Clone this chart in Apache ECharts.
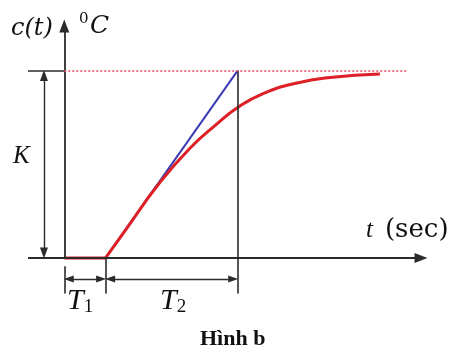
<!DOCTYPE html>
<html>
<head>
<meta charset="utf-8">
<script src="https://cdn.jsdelivr.net/npm/echarts@6/dist/echarts.min.js"></script>
<style>
html,body{margin:0;padding:0;background:#fff;}
#chart{width:453px;height:355px;}
</style>
</head>
<body>
<div id="chart"></div>
<script>
// ---- data (time units, normalised output) ----
const xRange = [-1, 10];
const yRange = [-0.2, 1.27];
const K = 1;
const T1 = 1.14;          // end of dead time
const T12 = 4.78;         // T1 + T2
const delayT = [0, 1.14];
const delayC = [0, 0];
const respT = [1.14, 1.81, 2.56, 3.47, 4.21, 4.76, 5.48, 6.42, 7.33, 8.70];
const respC = [0, 0.182, 0.384, 0.587, 0.715, 0.800, 0.877, 0.934, 0.963, 0.982];
const tangentT = [1.14, 4.78];
const tangentC = [0, 1];
const kLineEnd = 9.48;
const kArrowX = -0.56;
const dimY = -0.112;
const tickTop = -0.045, tickBottom = -0.19;

const chart = echarts.init(document.getElementById('chart'), null, {renderer: 'canvas'});
const zip = (a, b) => a.map((v, i) => [v, b[i]]);
const black = '#2b2b2b';
// pixel -> data unit helpers for pulling arrowhead centres back so tips land on the end points
const pxX = (xRange[1] - xRange[0]) / (453 - 28 - 26);
const pxY = (yRange[1] - yRange[0]) / (355 - 20 - 59.6);
function seg(p, q, s1, s2) {
  return [{coord: p, symbol: s1 || 'none'}, {coord: q, symbol: s2 || 'none'}];
}
function lines(data, width, size) {
  return {
    type: 'line', data: [], silent: true,
    markLine: {
      silent: true, animation: false, label: {show: false},
      symbol: ['none', 'none'], symbolSize: size || [8, 10],
      lineStyle: {color: black, type: 'solid', width: width},
      itemStyle: {color: black},
      emphasis: {disabled: true},
      data: data
    }
  };
}
const serif = '"Liberation Serif","DejaVu Serif",serif';
const dserif = '"DejaVu Serif",serif';

chart.setOption({
  animation: false,
  grid: {left: 28, right: 26, top: 20, bottom: 59.6},
  xAxis: {type: 'value', min: xRange[0], max: xRange[1], show: false},
  yAxis: {type: 'value', min: yRange[0], max: yRange[1], show: false},
  series: [
    // axes with arrowheads
    lines([
      seg([xRange[0], 0], [xRange[1] - 6 * pxX, 0], 'none', 'triangle'),
      seg([0, 0], [0, yRange[1] - 6 * pxY], 'none', 'triangle')
    ], 1.8, [10, 13]),
    // plain lines
    lines([
      seg([xRange[0], K], [0, K]),
      seg([T12, K], [T12, tickBottom]),
      seg([0, tickTop], [0, tickBottom]),
      seg([T1, 0], [T1, tickBottom])
    ], 1.6),
    // K dimension
    lines([seg([kArrowX, 5 * pxY], [kArrowX, K - 5 * pxY], 'triangle', 'triangle')], 1.4, [8, 11]),
    // T1, T2 dimensions
    lines([
      seg([4.5 * pxX, dimY], [T1 - 4.5 * pxX, dimY], 'triangle', 'triangle'),
      seg([T1 + 4.5 * pxX, dimY], [T12 - 4.5 * pxX, dimY], 'triangle', 'triangle')
    ], 1.4, [7, 10]),
    {
      type: 'line', data: [], silent: true,
      markLine: {
        silent: true, symbol: ['none', 'none'], label: {show: false},
        lineStyle: {color: '#e8506a', type: [2, 2], width: 1.6},
        data: [[{coord: [0, K]}, {coord: [kLineEnd, K]}]]
      }
    },
    {
      type: 'line', data: zip(tangentT, tangentC), symbol: 'none', silent: true,
      lineStyle: {color: '#3a3ab4', width: 2}
    },
    {
      type: 'line', data: zip(delayT, delayC), symbol: 'none', silent: true,
      lineStyle: {color: '#dd1f26', width: 3}
    },
    {
      type: 'line', data: zip(respT, respC), symbol: 'none', silent: true, smooth: 0.5,
      lineStyle: {color: '#dd1f26', width: 3}
    }
  ],
  graphic: [
    {type: 'text', left: 11, top: 17, style: {text: 'c(t)', font: 'italic 24px ' + dserif, fill: '#111'}},
    {type: 'text', left: 79, top: 12, style: {text: '0', font: '15px ' + dserif, fill: '#111'}},
    {type: 'text', left: 90, top: 14, style: {text: 'C', font: 'italic 25px ' + dserif, fill: '#111'}},
    {type: 'text', left: 13, top: 144, style: {text: 'K', font: 'italic 25px ' + serif, fill: '#111'}},
    {type: 'text', left: 366, top: 217, style: {
      text: '{t|t}{p|(sec)}', fill: '#111',
      rich: {t: {font: 'italic 25px ' + serif, padding: [0, 12, 0, 0]}, p: {font: '26px ' + dserif}}
    }},
    {type: 'text', left: 67, top: 286, style: {
      text: '{t|T}{n|1}', fill: '#111',
      rich: {t: {font: 'italic 30px ' + serif}, n: {font: '19px ' + serif, padding: [12, 0, 0, 0]}}
    }},
    {type: 'text', left: 160, top: 286, style: {
      text: '{t|T}{n|2}', fill: '#111',
      rich: {t: {font: 'italic 30px ' + serif}, n: {font: '19px ' + serif, padding: [12, 0, 0, 0]}}
    }},
    {type: 'text', left: 200, top: 328, style: {text: 'Hình b', font: 'bold 22px ' + serif, fill: '#111'}}
  ]
});
</script>
</body>
</html>
